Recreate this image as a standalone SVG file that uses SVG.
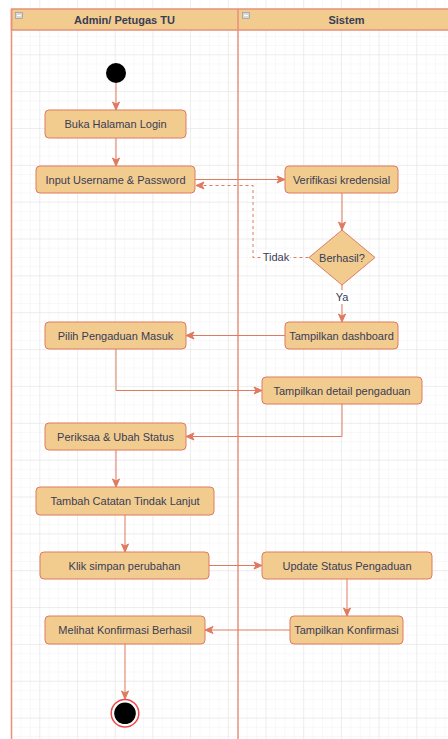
<svg xmlns="http://www.w3.org/2000/svg" width="448" height="739" viewBox="0 0 448 739">
<defs>
<pattern id="minor" patternUnits="userSpaceOnUse" x="1.6" y="17.45" width="9.425" height="9.2125">
<path d="M0,0 H9.425 M0,0 V9.2125" fill="none" stroke="#f2f2f2" stroke-width="1"/>
</pattern>
<pattern id="major" patternUnits="userSpaceOnUse" x="1.6" y="17.45" width="37.7" height="36.85">
<path d="M0,0 H37.7 M0,0 V36.85" fill="none" stroke="#e3e3e3" stroke-width="1"/>
</pattern>
<marker id="arr" markerUnits="userSpaceOnUse" markerWidth="10" markerHeight="10" viewBox="0 0 10 10" refX="9" refY="5" orient="auto">
<path d="M1,1.5 L9,5 L1,8.5 L3,5 Z" fill="#E07A5F" stroke="#E07A5F" stroke-width="1"/>
</marker>
</defs>
<style>
.node rect, .node polygon { fill: #F2CC8F; stroke: #E07A5F; stroke-width: 1; }
.lbl { font-family: "Liberation Sans", Arial, sans-serif; font-size: 11px; fill: #393C56; text-anchor: middle; dominant-baseline: central; }
.hdr { font-family: "Liberation Sans", Arial, sans-serif; font-size: 11px; font-weight: bold; fill: #393C56; text-anchor: middle; dominant-baseline: central; }
.edge { fill: none; stroke: #E07A5F; stroke-width: 1; }
.dash { stroke-dasharray: 3 3; }
.elbl { font-family: "Liberation Sans", Arial, sans-serif; font-size: 11px; fill: #393C56; text-anchor: middle; dominant-baseline: central; }
</style>
<rect width="448" height="739" fill="#ffffff"/>
<rect x="11" y="0" width="437" height="739" fill="url(#minor)"/>
<rect x="11" y="0" width="437" height="739" fill="url(#major)"/>

<g id="pool">
<rect x="11.5" y="9" width="450" height="21" fill="#F2CC8F" stroke="#E8907A" stroke-width="1.5"/>
<line x1="11.5" y1="9" x2="11.5" y2="739" stroke="#E8907A" stroke-width="1.5"/>
<line x1="238" y1="9" x2="238" y2="739" stroke="#E8907A" stroke-width="1.5"/>
<g id="lane-admin">
<rect x="15.5" y="12.5" width="7" height="6" fill="#d8d8d8" stroke="#9a9a9a" stroke-width="0.7"/>
<line x1="17" y1="15.5" x2="21" y2="15.5" stroke="#ffffff" stroke-width="1"/>
<text class="hdr" x="124.5" y="20">Admin/ Petugas TU</text>
</g>
<g id="lane-sistem">
<rect x="242.5" y="12.5" width="7" height="6" fill="#d8d8d8" stroke="#9a9a9a" stroke-width="0.7"/>
<line x1="244" y1="15.5" x2="248" y2="15.5" stroke="#ffffff" stroke-width="1"/>
<text class="hdr" x="346.5" y="20">Sistem</text>
</g>
</g>

<g id="connectors">
<path class="edge" d="M116,83 L116,110" marker-end="url(#arr)"/>
<path class="edge" d="M116,138 L116,166" marker-end="url(#arr)"/>
<path class="edge" d="M195,179.5 L285,179.5" marker-end="url(#arr)"/>
<path class="edge dash" d="M308.5,257.5 L253,257.5 L253,185.5 L196,185.5" marker-end="url(#arr)"/>
<path class="edge" d="M342,193 L342,230" marker-end="url(#arr)"/>
<path class="edge" d="M342,285 L342,322" marker-end="url(#arr)"/>
<path class="edge" d="M285,335.5 L186,335.5" marker-end="url(#arr)"/>
<path class="edge" d="M116,349 L116,390.5 L262,390.5" marker-end="url(#arr)"/>
<path class="edge" d="M342,404 L342,436.5 L186,436.5" marker-end="url(#arr)"/>
<path class="edge" d="M116,450 L116,487" marker-end="url(#arr)"/>
<path class="edge" d="M125,515 L125,552" marker-end="url(#arr)"/>
<path class="edge" d="M209,565.5 L262,565.5" marker-end="url(#arr)"/>
<path class="edge" d="M347,579 L347,616" marker-end="url(#arr)"/>
<path class="edge" d="M290,630 L205,630" marker-end="url(#arr)"/>
<path class="edge" d="M125,644 L125,699" marker-end="url(#arr)"/>
<rect x="262" y="250" width="28" height="14" fill="#ffffff"/>
<text class="elbl" x="276" y="257">Tidak</text>
<rect x="335" y="290" width="14" height="14" fill="#ffffff"/>
<text class="elbl" x="342" y="297">Ya</text>
</g>

<g id="start">
<circle cx="116" cy="73" r="10" fill="#000000"/>
</g>
<g id="n-buka" class="node">
<rect x="45" y="110" width="141" height="28" rx="4"/>
<text class="lbl" x="115.5" y="124">Buka Halaman Login</text>
</g>
<g id="n-input" class="node">
<rect x="36" y="166" width="159" height="27" rx="4"/>
<text class="lbl" x="115.5" y="179.5">Input Username &amp; Password</text>
</g>
<g id="n-verifikasi" class="node">
<rect x="285" y="166" width="113" height="27" rx="4"/>
<text class="lbl" x="341.5" y="179.5">Verifikasi kredensial</text>
</g>
<g id="n-berhasil" class="node">
<polygon points="342,230 375,257.5 342,285 309,257.5"/>
<text class="lbl" x="342" y="257.5">Berhasil?</text>
</g>
<g id="n-dashboard" class="node">
<rect x="285" y="322" width="113" height="27" rx="4"/>
<text class="lbl" x="341.5" y="335.5">Tampilkan dashboard</text>
</g>
<g id="n-pilih" class="node">
<rect x="45" y="322" width="141" height="27" rx="4"/>
<text class="lbl" x="115.5" y="335.5">Pilih Pengaduan Masuk</text>
</g>
<g id="n-detail" class="node">
<rect x="262" y="377" width="160" height="27" rx="4"/>
<text class="lbl" x="342" y="390.5">Tampilkan detail pengaduan</text>
</g>
<g id="n-periksa" class="node">
<rect x="45" y="423" width="141" height="27" rx="4"/>
<text class="lbl" x="115.5" y="436.5">Periksaa &amp; Ubah Status</text>
</g>
<g id="n-tambah" class="node">
<rect x="36" y="487" width="178" height="28" rx="4"/>
<text class="lbl" x="125" y="501">Tambah Catatan Tindak Lanjut</text>
</g>
<g id="n-klik" class="node">
<rect x="40" y="552" width="169" height="27" rx="4"/>
<text class="lbl" x="124.5" y="565.5">Klik simpan perubahan</text>
</g>
<g id="n-update" class="node">
<rect x="262" y="552" width="170" height="27" rx="4"/>
<text class="lbl" x="347" y="565.5">Update Status Pengaduan</text>
</g>
<g id="n-tampilkonf" class="node">
<rect x="290" y="616" width="113" height="28" rx="4"/>
<text class="lbl" x="346.5" y="630">Tampilkan Konfirmasi</text>
</g>
<g id="n-melihat" class="node">
<rect x="45" y="616" width="160" height="28" rx="4"/>
<text class="lbl" x="125" y="630">Melihat Konfirmasi Berhasil</text>
</g>
<g id="end">
<circle cx="125" cy="713.3" r="13.8" fill="#ffffff" stroke="#F04848" stroke-width="1.5"/>
<circle cx="125" cy="713.3" r="10.8" fill="#000000"/>
</g>
</svg>
